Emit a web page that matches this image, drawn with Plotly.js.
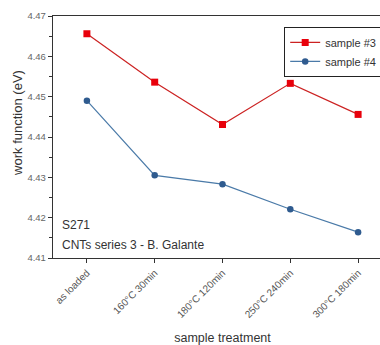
<!DOCTYPE html>
<html>
<head>
<meta charset="utf-8">
<script src="https://cdn.plot.ly/plotly-3.0.1.min.js"></script>
<style>
html,body{margin:0;padding:0;overflow:hidden;background:#fff;width:380px;height:345px;}
#chart{width:392px;height:345px;}
</style>
</head>
<body>
<div id="chart"></div>
<script>
var categories = ["as loaded", "160°C 30min", "180°C 120min", "250°C 240min", "300°C 180min"];
var sample3 = [4.4656, 4.4536, 4.4431, 4.4533, 4.4456];
var sample4 = [4.4490, 4.4305, 4.4283, 4.4221, 4.4164];
var yTicks = [4.41, 4.42, 4.43, 4.44, 4.45, 4.46, 4.47];
var yTickLabels = ["4.41", "4.42", "4.43", "4.44", "4.45", "4.46", "4.47"];

var xIdx = categories.map(function(_, i){ return i; });
var font = "Liberation Sans, Arial, sans-serif";

var traces = [
  {x: xIdx, y: sample3, name: "sample #3", mode: "lines+markers", type: "scatter",
   line: {color: "#cc2222", width: 1.2},
   marker: {symbol: "square", size: 7, color: "#e8000b"}},
  {x: xIdx, y: sample4, name: "sample #4", mode: "lines+markers", type: "scatter",
   line: {color: "#4a7aa8", width: 1.2},
   marker: {symbol: "circle", size: 6.5, color: "#2f5b8f"}}
];

var layout = {
  width: 392, height: 345,
  margin: {l: 53, r: 0, t: 16, b: 87},
  paper_bgcolor: "#fff", plot_bgcolor: "#fff",
  font: {family: font, color: "#333"},
  showlegend: true,
  legend: {x: 0.682, y: 0.955, xanchor: "left", yanchor: "top",
    bgcolor: "#fff", bordercolor: "#222", borderwidth: 1,
    font: {size: 11, color: "#333", family: font}, tracegroupgap: 0},
  xaxis: {
    range: [-0.5, 4.5], tickmode: "array", tickvals: xIdx, ticktext: categories,
    tickangle: -45, ticks: "outside", ticklen: 4, tickcolor: "#333",
    showline: true, linecolor: "#333", linewidth: 1.2, mirror: true,
    showgrid: false, zeroline: false,
    tickfont: {size: 10, color: "#555", family: font},
    title: {text: "sample treatment", font: {size: 12.5, color: "#333", family: font}, standoff: 16}
  },
  yaxis: {
    range: [4.41, 4.47], tickmode: "array", tickvals: yTicks, ticktext: yTickLabels,
    ticks: "outside", ticklen: 4, tickcolor: "#333",
    minor: {dtick: 0.005, ticks: "outside", ticklen: 2.5, tickcolor: "#333", showgrid: false},
    showline: true, linecolor: "#333", linewidth: 1.2, mirror: true,
    showgrid: false, zeroline: false,
    tickfont: {size: 9.5, color: "#666", family: font}
  },
  annotations: [
    {text: "work function (eV)", xref: "paper", yref: "paper", x: -0.105, y: 0.56,
     xanchor: "center", yanchor: "middle", textangle: -90, showarrow: false,
     font: {size: 13, color: "#333", family: font}},
    {text: "S271", xref: "paper", yref: "paper", x: 0.02, y: 0.135,
     xanchor: "left", yanchor: "middle", showarrow: false,
     font: {size: 12, color: "#333", family: font}},
    {text: "CNTs series 3 - B. Galante", xref: "paper", yref: "paper", x: 0.02, y: 0.053,
     xanchor: "left", yanchor: "middle", showarrow: false,
     font: {size: 12, color: "#333", family: font}}
  ]
};

Plotly.newPlot("chart", traces, layout, {displayModeBar: false, staticPlot: true});
</script>
</body>
</html>
